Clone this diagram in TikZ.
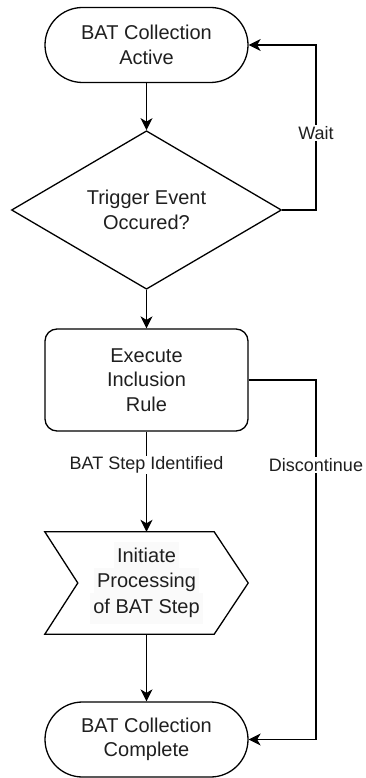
\documentclass[tikz,border=0pt]{standalone}
\usepackage{fontspec}
\setmainfont{Liberation Sans}
\usetikzlibrary{shapes.geometric,arrows.meta,calc}
\begin{document}
\begin{tikzpicture}[x=1pt,y=1pt,
  lw/.style={line width=1.3pt, draw=black},
  txt/.style={font=\fontsize{20pt}{24.5pt}\selectfont, align=center, text=black!88},
  term/.style={lw, txt, rectangle, rounded corners=37.5pt, minimum width=203pt, minimum height=75pt, inner sep=0pt},
  procbox/.style={lw, txt, rectangle, rounded corners=12pt, minimum width=203pt, minimum height=102pt, inner sep=0pt},
  decbox/.style={lw, txt, diamond, minimum width=270pt, minimum height=134pt, inner sep=0pt},
  arr/.style={lw, -{Stealth[length=12pt,width=12pt,inset=3.5pt]}},
  lbl/.style={font=\fontsize{18pt}{21pt}\selectfont, fill=white, text=black!88, inner sep=1pt}
]
\useasboundingbox (0,0) rectangle (366,-778);
\node[term] (t1) at (146.5,-45) {BAT Collection\\Active};
\node[decbox] (dec) at (146.5,-210) {Trigger Event\\Occured?};
\node[procbox] (rule) at (146.5,-380) {Execute\\Inclusion\\Rule};
\node[rectangle, minimum width=203pt, minimum height=102pt, inner sep=0pt] (chev) at (146.5,-583) {};
\draw[lw] (chev.north west) -- ($(chev.north east)+(-34,0)$) -- (chev.east) -- ($(chev.south east)+(-34,0)$) -- (chev.south west) -- ($(chev.west)+(33,0)$) -- cycle;
\node[txt] (chevtxt) at (chev.center) {\colorbox{black!2}{\strut Initiate}\\[-6pt]\colorbox{black!2}{\strut Processing}\\[-6pt]\colorbox{black!2}{\strut of BAT Step}};
\node[term] (t2) at (146.5,-739.5) {BAT Collection\\Complete};
\coordinate (rx) at (316,0);

\draw[arr] (t1.south) -- (dec.north);
\draw[arr] (dec.east) -| (rx |- t1.east) -- (t1.east);
\node[lbl] (wait) at (316,-133) {Wait};
\draw[arr] (dec.south) -- (rule.north);
\draw[arr] (rule.south) -- (chev.north);
\node[lbl] (bsi) at (146.5,-465) {BAT Step Identified};
\draw[arr] (chev.south) -- (t2.north);
\draw[arr] (rule.east) -| (rx |- t2.east) -- (t2.east);
\node[lbl] (disc) at (316,-465) {Discontinue};
\end{tikzpicture}
\end{document}
